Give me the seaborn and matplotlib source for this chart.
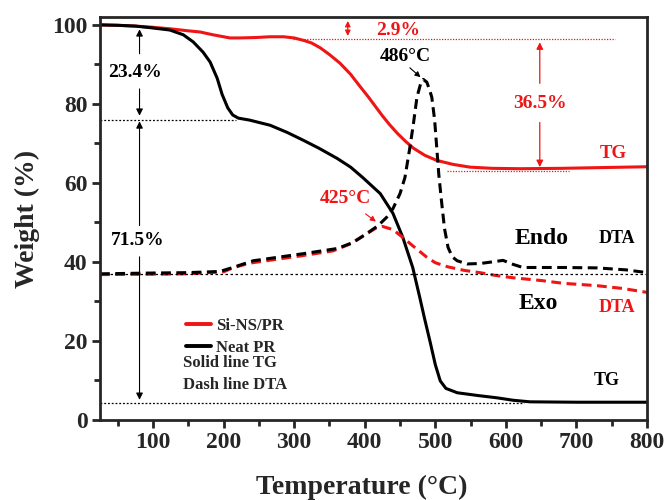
import matplotlib
matplotlib.use("Agg")
import matplotlib.pyplot as plt
import seaborn as sns

# Si-NS/PR, TG (solid red)
si_tg_temp = [25, 50, 75, 100, 125, 150, 167, 185, 209, 223, 245, 266, 285, 300, 315, 325,
              337, 350, 365, 380, 393, 405, 415, 425, 435, 446, 458, 469, 485, 502, 525,
              549, 580, 620, 680, 740, 800]
si_tg = [100, 99.9, 99.7, 99.4, 99.0, 98.5, 98.2, 97.5, 96.7, 96.7, 96.8, 97.0, 97.0, 96.7,
         96.0, 95.4, 94.2, 92.5, 90.3, 87.5, 84.5, 81.8, 79.4, 77.0, 74.8, 72.6, 70.5, 68.8,
         67.0, 65.7, 64.7, 64.0, 63.7, 63.6, 63.7, 63.9, 64.1]

# Neat PR, TG (solid black)
neat_tg_temp = [25, 50, 75, 96, 124, 143, 157, 171, 181, 191, 198, 206, 213, 221, 237, 266,
                290, 313, 335, 361, 380, 397, 422, 440, 454, 468, 478, 485, 493, 500, 507,
                515, 531, 560, 588, 610, 634, 700, 800]
neat_tg = [100, 99.9, 99.7, 99.3, 98.7, 97.5, 95.7, 93.1, 90.6, 86.5, 82.4, 79.0, 77.2, 76.4,
           75.9, 74.6, 72.8, 70.8, 68.8, 66.2, 64.0, 61.4, 57.3, 52.3, 46.2, 38.6, 31.0,
           25.5, 19.5, 14.0, 9.9, 8.0, 6.9, 6.2, 5.6, 5.0, 4.6, 4.5, 4.5]

# Neat PR, DTA (dashed black)
neat_dta_temp = [25, 100, 150, 195, 213, 242, 313, 361, 383, 403, 419, 431, 440, 450, 457,
                 464, 469, 474, 479, 483, 488, 492, 495, 499, 502, 505, 509, 513, 518, 524,
                 531, 545, 563, 580, 596, 610, 624, 681, 729, 770, 800]
neat_dta = [37.0, 37.2, 37.3, 37.6, 38.6, 40.3, 42.1, 43.4, 44.9, 47.2, 49.2, 51.3, 53.5,
            57.3, 61.4, 69.0, 75.0, 81.7, 85.0, 86.2, 85.5, 83.5, 81.7, 76.0, 69.0, 62.0,
            55.0, 48.5, 43.7, 41.3, 40.3, 39.5, 39.6, 40.0, 40.4, 39.4, 38.6, 38.6, 38.5,
            38.0, 37.3]

# Si-NS/PR, DTA (dashed red)
si_dta_temp = [25, 100, 150, 200, 213, 237, 260, 308, 355, 380, 400, 415, 425, 440, 454,
               470, 488, 500, 517, 540, 563, 585, 610, 650, 681, 729, 765, 800]
si_dta = [36.8, 36.9, 37.0, 37.5, 38.5, 39.7, 40.3, 41.5, 42.8, 44.6, 46.8, 48.5, 49.0,
          48.2, 46.2, 43.8, 41.2, 39.8, 38.8, 37.9, 37.3, 36.6, 36.0, 35.3, 34.6, 34.0,
          33.3, 32.3]

x_ticks = [100, 200, 300, 400, 500, 600, 700, 800]
y_ticks = [0, 20, 40, 60, 80, 100]

RED = "#f01414"

sns.set_style("ticks")
plt.rcParams["font.family"] = ["Liberation Serif", "DejaVu Serif"]
plt.rcParams["font.weight"] = "bold"

fig = plt.figure(figsize=(6.68, 5), dpi=100)
ax = fig.add_axes([0.1497, 0.16, 0.819, 0.806])

dash = (0, (3.2, 1.8))
sns.lineplot(x=si_tg_temp, y=si_tg, ax=ax, color=RED, lw=2.2, label="Si-NS/PR")
sns.lineplot(x=neat_tg_temp, y=neat_tg, ax=ax, color="black", lw=2.2, label="Neat PR")
sns.lineplot(x=si_dta_temp, y=si_dta, ax=ax, color=RED, lw=2.2, linestyle=dash)
sns.lineplot(x=neat_dta_temp, y=neat_dta, ax=ax, color="black", lw=2.2, linestyle=dash)

# guide lines
ax.plot([25, 218], [75.9, 75.9], color="black", lw=0.9, ls=(0, (1.5, 1.5)))
ax.plot([25, 800], [37.0, 37.0], color="black", lw=0.9, ls=(0, (2, 2)))
ax.plot([25, 625], [4.2, 4.2], color="black", lw=0.9, ls=(0, (1.5, 1.5)))
ax.plot([298, 755], [96.4, 96.4], color=RED, lw=0.9, ls=(0, (1, 1.2)))
ax.plot([517, 690], [63.0, 63.0], color=RED, lw=0.9, ls=(0, (1, 1.2)))

# arrows
thin = dict(arrowstyle="-|>", color="black", lw=0.8, mutation_scale=10)
ax.annotate("", xy=(81, 99.6), xytext=(81, 92), arrowprops=thin)
ax.annotate("", xy=(81, 76.3), xytext=(81, 84.5), arrowprops=thin)
ax.annotate("", xy=(81, 76.3), xytext=(81, 48.5), arrowprops=thin)
ax.annotate("", xy=(81, 4.4), xytext=(81, 42), arrowprops=thin)
red_arr = dict(arrowstyle="-|>", color=RED, lw=0.9, mutation_scale=10)
ax.annotate("", xy=(376, 101.7), xytext=(376, 96.5),
            arrowprops=dict(arrowstyle="<|-|>", color=RED, lw=0.9, mutation_scale=8))
ax.annotate("", xy=(648, 96.3), xytext=(648, 84.5), arrowprops=red_arr)
ax.annotate("", xy=(648, 63.3), xytext=(648, 76.0), arrowprops=red_arr)
ax.annotate("", xy=(482, 86.3), xytext=(461, 89.6),
            arrowprops=dict(arrowstyle="-|>", color="black", lw=0.8, mutation_scale=8))
ax.annotate("", xy=(419, 49.8), xytext=(398, 52.6),
            arrowprops=dict(arrowstyle="-|>", color=RED, lw=0.8, mutation_scale=8))

txt = dict(ha="center", va="center", fontweight="bold")
ax.text(75, 88, "23.4%", fontsize=14, color="black", **txt)
ax.text(79, 45.4, "71.5%", fontsize=14, color="black", **txt)
ax.text(447, 98.7, "2.9%", fontsize=14, color=RED, **txt)
ax.text(648, 80.2, "36.5%", fontsize=14, color=RED, **txt)
ax.text(457, 91.9, "486°C", fontsize=14, color="black", **txt)
ax.text(372, 56.1, "425°C", fontsize=14, color=RED, **txt)
ax.text(752, 67.5, "TG", fontsize=13.5, color=RED, **txt)
ax.text(651, 45.9, "Endo", fontsize=17, color="black", **txt)
ax.text(758, 45.9, "DTA", fontsize=13, color="black", **txt)
ax.text(646, 29.4, "Exo", fontsize=17, color="black", **txt)
ax.text(758, 28.4, "DTA", fontsize=13, color=RED, **txt)
ax.text(743, 9.9, "TG", fontsize=13, color="black", **txt)

leg = ax.legend(loc="upper left", bbox_to_anchor=(0.13, 0.29), frameon=False,
                handlelength=1.5, handletextpad=0.3, labelspacing=0.35,
                prop={"weight": "bold", "size": 12})
for line in leg.get_lines():
    line.set_linewidth(2.8)
ax.text(0.152, 0.141, "Solid line TG", transform=ax.transAxes, fontsize=12,
        fontweight="bold", va="center", ha="left")
ax.text(0.152, 0.087, "Dash line DTA", transform=ax.transAxes, fontsize=12,
        fontweight="bold", va="center", ha="left")

ax.set_xlim(25, 800)
ax.set_ylim(0, 102)
ax.set_xticks(x_ticks)
ax.set_yticks(y_ticks)
ax.set_xticks([50 + 100 * i for i in range(8)], minor=True)
ax.set_yticks([10, 30, 50, 70, 90], minor=True)
ax.tick_params(which="major", direction="out", length=6, width=2, labelsize=17, pad=3)
ax.tick_params(which="minor", direction="out", length=4, width=2)
for lab in ax.get_xticklabels() + ax.get_yticklabels():
    lab.set_fontweight("bold")
for s in ax.spines.values():
    s.set_linewidth(2)
    s.set_visible(True)
ax.set_xlabel("Temperature (°C)", fontsize=20, fontweight="bold")
ax.xaxis.set_label_coords(0.479, -0.135)
ax.set_ylabel("Weight (%)", fontsize=20, fontweight="bold", labelpad=9)

fig.savefig("out.png", dpi=100)
